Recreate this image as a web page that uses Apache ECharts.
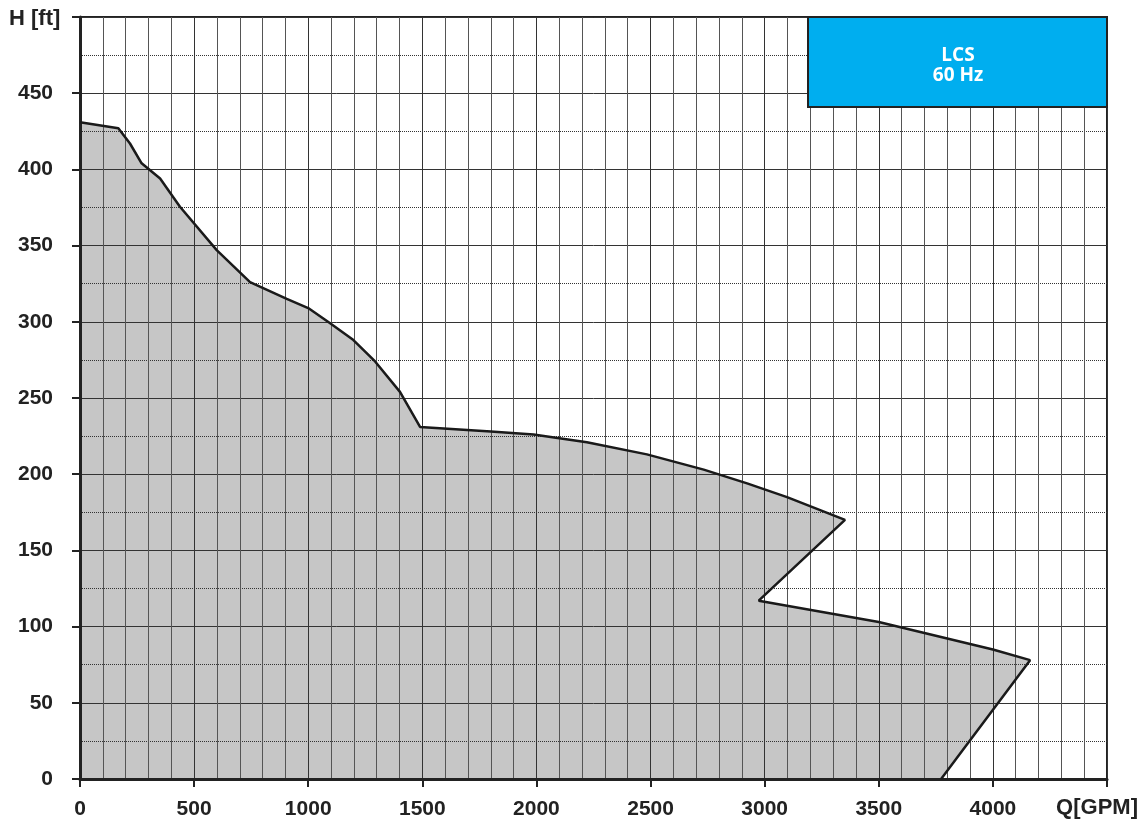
<!DOCTYPE html>
<html>
<head>
<meta charset="utf-8">
<title>LCS 60 Hz</title>
<script src="https://cdn.jsdelivr.net/npm/echarts@6/dist/echarts.min.js"></script>
<style>
  html, body { margin: 0; padding: 0; background: #fff; }
  #chart { width: 1142px; height: 827px; }
</style>
</head>
<body>
<div id="chart"></div>
<script>
// operating range envelope (Q in GPM, H in ft)
const flowGpm = [0, 168, 219, 270, 351, 438, 599, 745, 906, 1000, 1096, 1198, 1293, 1402, 1490, 1800, 1987, 2221, 2484, 2733, 2923, 3098, 3352, 2974, 3500, 4000, 4163, 3773]
const headFt = [431, 427, 417, 404, 394, 375.5, 347, 326, 315, 309, 299, 288, 274, 254, 231, 228, 226, 221, 213, 203, 194, 185, 170, 117, 103, 85, 78, 0]

const xAxisTitle = 'Q[GPM]'
const yAxisTitle = 'H [ft]'
const boxLines = ['LCS', '60 Hz']

const points = flowGpm.map((q, i) => [q, headFt[i]])

const font = 'Liberation Sans, Arial, sans-serif'
const chart = echarts.init(document.getElementById('chart'))

const option = {
  animation: false,
  backgroundColor: '#fff',
  grid: {
    left: 80,
    right: 35,
    top: 17,
    bottom: 48,
    show: true,
    borderColor: '#222',
    borderWidth: 2
  },
  xAxis: {
    type: 'value',
    min: 0,
    max: 4500,
    interval: 500,
    z: 2,
    axisLine: { lineStyle: { color: '#222', width: 3 } },
    axisTick: { show: true, length: 8, lineStyle: { color: '#222', width: 2 } },
    axisLabel: {
      color: '#222',
      fontFamily: font,
      fontWeight: 'bold',
      fontSize: 21,
      margin: 20,
      formatter: v => (v === 4500 ? '' : String(v))
    },
    splitLine: { show: true, lineStyle: { color: '#333', width: 1 } },
    minorTick: { show: false, splitNumber: 5 },
    minorSplitLine: { show: true, lineStyle: { color: '#555', width: 1 } }
  },
  yAxis: {
    type: 'value',
    min: 0,
    max: 500,
    interval: 50,
    z: 2,
    axisLine: { lineStyle: { color: '#222', width: 3 } },
    axisTick: { show: true, length: 8, lineStyle: { color: '#222', width: 2 } },
    axisLabel: {
      color: '#222',
      fontFamily: font,
      fontWeight: 'bold',
      fontSize: 21,
      margin: 27,
      formatter: v => (v === 500 ? '' : String(v))
    },
    splitLine: { show: true, lineStyle: { color: '#333', width: 1 } },
    minorTick: { show: false, splitNumber: 2 },
    minorSplitLine: { show: true, lineStyle: { color: '#333', width: 1, type: 'dotted' } }
  },
  series: [
    {
      // grey fill, kept under the grid lines
      type: 'line',
      z: 1,
      data: points,
      symbol: 'none',
      silent: true,
      lineStyle: { width: 0 },
      areaStyle: { color: '#c6c6c6', opacity: 1 }
    },
    {
      type: 'line',
      z: 3,
      data: points,
      symbol: 'none',
      lineStyle: { color: '#1a1a1a', width: 2.5 }
    }
  ],
  graphic: [
    {
      type: 'text',
      left: 9,
      top: 8,
      style: { text: yAxisTitle, font: 'bold 22px ' + font, fill: '#222' }
    },
    {
      type: 'text',
      right: 4,
      top: 797,
      style: { text: xAxisTitle, font: 'bold 22px ' + font, fill: '#222' }
    },
    {
      type: 'rect',
      z: 100,
      shape: { x: 808, y: 17, width: 299, height: 90 },
      style: { fill: '#00aeef', stroke: '#222', lineWidth: 2 }
    },
    {
      type: 'text',
      z: 101,
      x: 958,
      y: 66,
      style: {
        text: boxLines.join('\n'),
        font: 'bold 19px Open Sans, Noto Sans, sans-serif',
        fill: '#fff',
        align: 'center',
        verticalAlign: 'middle',
        lineHeight: 20
      }
    }
  ]
}

chart.setOption(option)
</script>
</body>
</html>
